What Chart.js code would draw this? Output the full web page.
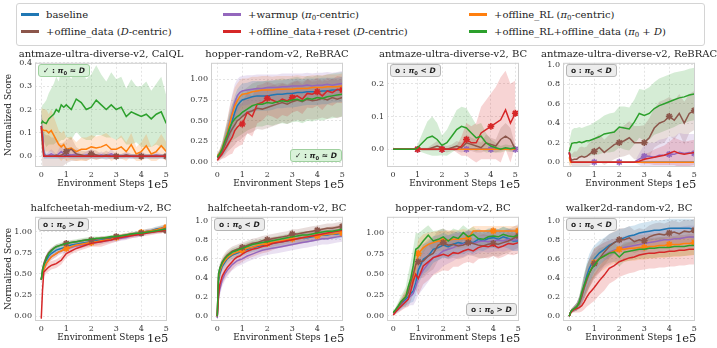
<!DOCTYPE html>
<html>
<head>
<meta charset="utf-8">
<script src="https://cdn.jsdelivr.net/npm/chart.js@4.4.1/dist/chart.umd.min.js"></script>
<style>
  body { margin: 0; background: #fff; width: 717px; height: 348px; overflow: hidden; position: relative; font-family: "DejaVu Serif", serif; color: #222; }
  canvas { position: absolute; }
  #legend { position: absolute; left: 16px; top: 3px; width: 689px; height: 43px; border: 1px solid #d4d4d4; border-radius: 3px; box-sizing: border-box; }
  .item { position: absolute; height: 14px; line-height: 14px; font-size: 10px; white-space: nowrap; }
  .sw { display: inline-block; width: 18px; height: 3px; vertical-align: middle; margin-right: 7px; margin-top: -2px; }
  .ttl { position: absolute; width: 220px; text-align: center; font-size: 10px; line-height: 12px; white-space: nowrap; }
  .exp { position: absolute; font-size: 11.5px; line-height: 13px; }
  .badge { position: absolute; font-family: "DejaVu Sans", sans-serif; font-weight: bold; font-size: 7.5px; line-height: 9px; padding: 1px 4px; border-radius: 3px; white-space: nowrap; }
  .badge.ok { background: #d9f2d9; border: 1px solid #9fd09f; }
  .badge.no { background: #ececec; border: 1px solid #b5b5b5; }
  sub { font-size: 70%; vertical-align: -2px; line-height: 0; }
</style>
</head>
<body>
<div id="legend">
  <div class="item" style="left:4px;top:4px"><span class="sw" style="background:#1f77b4"></span>baseline</div>
  <div class="item" style="left:206px;top:4px"><span class="sw" style="background:#9467bd"></span>+warmup (<i>π</i><sub>0</sub>-centric)</div>
  <div class="item" style="left:452px;top:4px"><span class="sw" style="background:#ff7f0e"></span>+offline_RL (<i>π</i><sub>0</sub>-centric)</div>
  <div class="item" style="left:4px;top:21px"><span class="sw" style="background:#8c564b"></span>+offline_data (<i>D</i>-centric)</div>
  <div class="item" style="left:206px;top:21px"><span class="sw" style="background:#d62728"></span>+offline_data+reset (<i>D</i>-centric)</div>
  <div class="item" style="left:452px;top:21px"><span class="sw" style="background:#2ca02c"></span>+offline_RL+offline_data (<i>π</i><sub>0</sub> + <i>D</i>)</div>
</div>
<script>
// environment steps (x 1e5)
const steps = [0, 0.05, 0.1, 0.2, 0.3, 0.4, 0.5, 0.6, 0.7, 0.8, 0.9, 1.0,
  1.2, 1.4, 1.6, 1.8, 2.0, 2.2, 2.4, 2.6, 2.8, 3.0,
  3.2, 3.4, 3.6, 3.8, 4.0, 4.2, 4.4, 4.6, 4.8, 5.0];
const xTicks = [0, 1, 2, 3, 4, 5];
const markAt = [11, 16, 21, 26, 31];

// order: baseline, warmup, offline_RL, offline_data, offline_data+reset, offline_RL+offline_data
const colors = ['#1f77b4', '#9467bd', '#ff7f0e', '#8c564b', '#d62728', '#2ca02c'];

const titles = ['antmaze-ultra-diverse-v2, CalQL', 'hopper-random-v2, ReBRAC', 'antmaze-ultra-diverse-v2, BC', 'antmaze-ultra-diverse-v2, ReBRAC',
  'halfcheetah-medium-v2, BC', 'halfcheetah-random-v2, BC', 'hopper-random-v2, BC', 'walker2d-random-v2, BC'];

// ---- panel 1: antmaze-ultra-diverse-v2, CalQL
const p1Base = [0.13,0.1,0.01,0,0,0,0,0,0,0,0,0.005, 0,0,0,0,0,0,0,0,0,0, 0,0,0,0,0,0,0,0,0,0];
const p1Warm = [0.13,0.09,0.01,0,0.005,0.01,0.005,0,0.01,0.02,0.01,0.01, 0.005,0.01,0,0.005,0.01,0,0.005,0,0.01,0, 0,0.005,0,0,0.005,0,0,0.005,0,0];
const p1RL = [0.12,0.115,0.11,0.11,0.1,0.11,0.09,0.07,0.05,0.04,0.05,0.03, 0.035,0.02,0.03,0.03,0.04,0.035,0.04,0.05,0.03,0.03, 0.04,0.02,0.05,0.01,0.02,0.045,0.01,0.02,0.045,0.02];
const p1Data = [0.12,0.05,0,0,0,0,0,0.005,0,0.005,0.01,0.02, 0.03,0.01,0.005,0,0.01,0.005,0,0.005,0,0, 0,0.005,0,0,0,0,0,0,0,0];
const p1Reset = [0.13,0.08,0,0,0,0,0,0,0,0,0,0, 0,0,0,0,0,0,0,0,0,0, 0,0,0,0,0,0,0,0,0,0];
const p1Both = [0.14,0.15,0.145,0.14,0.16,0.17,0.18,0.2,0.19,0.22,0.21,0.22, 0.2,0.245,0.23,0.2,0.21,0.24,0.22,0.2,0.22,0.2, 0.21,0.17,0.19,0.18,0.17,0.18,0.16,0.18,0.19,0.14];
const p1BaseSd = [0.06,0.05,0.02,0.01,0.01,0.01,0.01,0.01,0.01,0.01,0.01,0.01, 0.01,0.01,0.01,0.01,0.01,0.01,0.01,0.01,0.01,0.01, 0.01,0.01,0.01,0.01,0.01,0.01,0.01,0.01,0.01,0.01];
const p1WarmSd = [0.06,0.05,0.02,0.01,0.015,0.02,0.015,0.01,0.02,0.03,0.02,0.02, 0.015,0.02,0.01,0.015,0.02,0.01,0.015,0.01,0.02,0.01, 0.01,0.015,0.01,0.01,0.015,0.01,0.01,0.015,0.01,0.01];
const p1RLSd = [0.08,0.09,0.09,0.09,0.08,0.09,0.08,0.07,0.06,0.06,0.06,0.05, 0.05,0.04,0.05,0.05,0.05,0.05,0.05,0.05,0.05,0.04, 0.05,0.04,0.05,0.03,0.04,0.05,0.03,0.04,0.05,0.04];
const p1DataSd = [0.08,0.1,0.1,0.09,0.09,0.08,0.08,0.07,0.06,0.05,0.05,0.05, 0.05,0.03,0.02,0.02,0.02,0.02,0.01,0.02,0.01,0.01, 0.01,0.01,0.01,0.01,0.01,0.01,0.01,0.01,0.01,0.01];
const p1BothSd = [0.06,0.07,0.08,0.1,0.11,0.12,0.13,0.14,0.13,0.15,0.14,0.14, 0.13,0.14,0.15,0.13,0.14,0.15,0.13,0.12,0.14,0.13, 0.13,0.12,0.14,0.12,0.13,0.14,0.12,0.13,0.15,0.12];
const p1YTicks = [0, 0.1, 0.2, 0.3, 0.4];

// ---- panel 2: hopper-random-v2, ReBRAC
const p2Base = [0.07,0.08,0.1,0.15,0.22,0.3,0.4,0.5,0.6,0.68,0.72,0.75, 0.77,0.79,0.8,0.8,0.8,0.81,0.82,0.82,0.83,0.83, 0.84,0.84,0.85,0.85,0.85,0.86,0.86,0.87,0.87,0.88];
const p2Warm = [0.07,0.08,0.1,0.15,0.25,0.35,0.48,0.6,0.72,0.8,0.84,0.86, 0.87,0.88,0.89,0.89,0.9,0.9,0.9,0.91,0.91,0.92, 0.92,0.92,0.93,0.92,0.93,0.93,0.94,0.93,0.94,0.95];
const p2RL = [0.08,0.09,0.11,0.17,0.26,0.35,0.47,0.58,0.68,0.74,0.79,0.82, 0.83,0.85,0.86,0.87,0.87,0.87,0.88,0.88,0.88,0.88, 0.89,0.89,0.89,0.9,0.9,0.9,0.91,0.91,0.91,0.92];
const p2Data = [0.05,0.06,0.08,0.13,0.2,0.28,0.35,0.4,0.45,0.5,0.52,0.55, 0.6,0.62,0.65,0.64,0.66,0.68,0.7,0.72,0.7,0.73, 0.75,0.73,0.76,0.74,0.75,0.77,0.75,0.78,0.76,0.78];
const p2Reset = [0.02,0.04,0.06,0.1,0.15,0.2,0.25,0.3,0.38,0.42,0.45,0.46, 0.6,0.55,0.7,0.72,0.77,0.75,0.72,0.76,0.74,0.78, 0.8,0.76,0.83,0.82,0.85,0.8,0.86,0.84,0.88,0.87];
const p2Both = [0.06,0.08,0.1,0.16,0.25,0.33,0.42,0.48,0.52,0.55,0.57,0.6, 0.64,0.68,0.7,0.7,0.72,0.71,0.73,0.74,0.73,0.75, 0.76,0.74,0.77,0.76,0.78,0.77,0.79,0.8,0.81,0.82];
const p2BaseSd = [0.03,0.04,0.05,0.08,0.12,0.15,0.18,0.2,0.2,0.2,0.2,0.2, 0.19,0.19,0.18,0.18,0.18,0.18,0.17,0.17,0.17,0.17, 0.17,0.16,0.16,0.16,0.16,0.16,0.16,0.15,0.15,0.15];
const p2WarmSd = [0.03,0.04,0.05,0.08,0.12,0.16,0.2,0.22,0.22,0.2,0.19,0.18, 0.18,0.17,0.17,0.17,0.16,0.16,0.16,0.16,0.16,0.15, 0.15,0.15,0.15,0.15,0.15,0.15,0.15,0.15,0.15,0.15];
const p2RLSd = [0.03,0.04,0.05,0.08,0.12,0.16,0.2,0.22,0.22,0.21,0.2,0.19, 0.18,0.18,0.17,0.17,0.17,0.16,0.16,0.16,0.16,0.16, 0.16,0.15,0.15,0.15,0.15,0.15,0.15,0.15,0.15,0.15];
const p2DataSd = [0.03,0.04,0.05,0.08,0.12,0.16,0.2,0.22,0.24,0.25,0.26,0.26, 0.26,0.26,0.25,0.25,0.25,0.25,0.25,0.24,0.24,0.24, 0.24,0.24,0.24,0.23,0.23,0.23,0.23,0.23,0.23,0.23];
const p2ResetSd = [0.02,0.03,0.04,0.06,0.1,0.13,0.16,0.2,0.22,0.24,0.25,0.25, 0.25,0.24,0.23,0.22,0.2,0.2,0.2,0.19,0.19,0.18, 0.18,0.18,0.17,0.17,0.17,0.17,0.16,0.16,0.16,0.16];
const p2BothSd = [0.03,0.04,0.05,0.08,0.12,0.16,0.2,0.22,0.24,0.25,0.25,0.26, 0.26,0.27,0.27,0.27,0.27,0.27,0.27,0.27,0.27,0.27, 0.27,0.27,0.27,0.27,0.27,0.27,0.27,0.27,0.27,0.27];
const p2YTicks = [0, 0.25, 0.5, 0.75, 1.0];

// ---- panel 3: antmaze-ultra-diverse-v2, BC
const p3Base = [0,0,0,0,0,0,0,0,0,0,0,0, 0,0,0,0,0,0,0,0,0,0, 0,0,0,0,0,0,0,0,0,0];
const p3Warm = [0,0,0,0,0,0,0,0,0,0,0,0, 0,0,0,0,0,0,0,0,0,0, 0,0,0,0,0,0,0,0,0,0];
const p3RL = [0,0,0,0,0,0,0,0,0,0,0,0, 0,0,0,0,0,0,0,0,0,0, 0,0,0,0,0,0,0,0,0,0];
const p3Data = [0,0,0,0,0,0,0,0,0,0,0,0, 0,0,0.005,0.01,0.005,0,0.005,0.01,0.005,0.02, 0.015,0.01,0.005,0.02,0.015,0.01,0.03,0.04,0.03,0];
const p3Reset = [0,0,0,0,0,0,0,0,0,0,0,0, 0,0,0,0,0,0,0,0,0.01,0.03, 0.02,0.02,0.05,0.06,0.07,0.08,0.09,0.12,0.08,0.11];
const p3Both = [0,0,0,0,0,0,0,0,0,0,0,0.005, 0.02,0.035,0.04,0.03,0.012,0.02,0.04,0.06,0.07,0.065, 0.05,0.035,0.04,0.02,0.01,0.005,0,0.005,0.002,0.005];
const p3DataSd = [0,0,0,0,0,0,0,0,0,0,0,0, 0.005,0.005,0.01,0.015,0.01,0.01,0.01,0.015,0.015,0.025, 0.02,0.02,0.015,0.025,0.02,0.02,0.035,0.04,0.035,0.01];
const p3ResetSd = [0,0,0,0,0,0,0,0,0,0,0,0, 0,0,0,0,0,0,0,0.01,0.03,0.05, 0.05,0.06,0.08,0.09,0.1,0.11,0.13,0.12,0.12,0.1];
const p3BothSd = [0,0,0,0,0,0,0,0,0,0,0,0.01, 0.03,0.05,0.06,0.05,0.03,0.04,0.05,0.06,0.06,0.06, 0.05,0.04,0.04,0.03,0.02,0.015,0.01,0.01,0.01,0.01];
const p3YTicks = [0, 0.1, 0.2];

// ---- panel 4: antmaze-ultra-diverse-v2, ReBRAC
const p4Base = [0.1,0.02,0,0,0,0,0,0,0,0,0,0, 0,0,0,0,0,0,0,0,0,0, 0,0,0,0,0,0,0,0,0,0];
const p4Warm = [0.1,0.03,0,0,0,0,0,0,0,0,0,0, 0,0,0,0,0,0,0,0,0.03,0.06, 0.06,0.05,0.07,0.07,0.08,0.08,0.1,0.09,0.1,0.09];
const p4RL = [0.05,0,0,0,0,0,0,0,0,0,0,0, 0,0,0,0,0,0,0,0,0,0, 0,0,0,0,0,0,0,0,0,0];
const p4Data = [0.1,0.04,0.02,0.03,0.03,0.05,0.06,0.05,0.06,0.08,0.1,0.11, 0.15,0.1,0.14,0.18,0.2,0.22,0.25,0.2,0.2,0.2, 0.25,0.35,0.4,0.42,0.47,0.43,0.5,0.4,0.5,0.53];
const p4Reset = [0.1,0.02,0,0,0,0,0,0,0,0,0,0, 0,0,0,0,0,0,0,0,0.01,0.03, 0.04,0.05,0.06,0.07,0.09,0.11,0.09,0.08,0.09,0.1];
const p4Both = [0.11,0.15,0.19,0.2,0.2,0.21,0.2,0.21,0.22,0.22,0.23,0.24, 0.26,0.29,0.3,0.31,0.36,0.35,0.34,0.41,0.5,0.48, 0.5,0.55,0.58,0.6,0.62,0.64,0.66,0.67,0.69,0.7];
const p4WarmSd = [0.05,0.02,0,0,0,0,0,0,0,0,0,0, 0,0,0,0,0,0,0,0,0.06,0.12, 0.14,0.15,0.16,0.17,0.18,0.18,0.2,0.2,0.19,0.2];
const p4RLSd = [0.15,0.05,0.01,0,0,0,0,0,0,0,0,0, 0,0,0,0,0,0,0,0,0,0, 0,0,0,0,0,0,0,0,0,0];
const p4DataSd = [0.05,0.05,0.06,0.08,0.08,0.1,0.1,0.1,0.1,0.12,0.12,0.13, 0.14,0.13,0.14,0.15,0.15,0.16,0.17,0.17,0.17,0.18, 0.2,0.2,0.22,0.22,0.2,0.2,0.2,0.22,0.2,0.2];
const p4ResetSd = [0.05,0.02,0,0,0,0,0,0,0,0,0,0, 0,0,0,0,0,0,0,0,0.02,0.05, 0.06,0.08,0.09,0.1,0.12,0.14,0.14,0.13,0.13,0.13];
const p4BothSd = [0.1,0.12,0.14,0.15,0.15,0.15,0.15,0.15,0.15,0.16,0.16,0.17, 0.18,0.19,0.2,0.2,0.21,0.22,0.22,0.23,0.25,0.26, 0.27,0.27,0.28,0.28,0.28,0.28,0.27,0.27,0.27,0.27];
const p4YTicks = [0, 0.2, 0.4, 0.6, 0.8, 1.0];

// ---- panel 5: halfcheetah-medium-v2, BC
const p5Base = [0.43,0.52,0.58,0.66,0.71,0.74,0.76,0.78,0.79,0.8,0.81,0.82, 0.84,0.85,0.86,0.87,0.88,0.89,0.9,0.91,0.92,0.93, 0.94,0.95,0.96,0.97,0.98,1.0,1.01,1.03,1.04,1.06];
const p5Warm = [0.43,0.5,0.55,0.62,0.67,0.7,0.72,0.74,0.76,0.77,0.78,0.79, 0.81,0.83,0.84,0.85,0.86,0.87,0.88,0.89,0.9,0.91, 0.92,0.93,0.95,0.96,0.97,0.99,1.0,1.01,1.03,1.04];
const p5RL = [0.43,0.5,0.55,0.62,0.66,0.7,0.72,0.74,0.76,0.77,0.79,0.8, 0.82,0.84,0.85,0.86,0.87,0.88,0.89,0.9,0.91,0.93, 0.94,0.95,0.96,0.97,0.99,1.0,1.01,1.02,1.04,1.05];
const p5Data = [0.43,0.55,0.62,0.7,0.75,0.78,0.8,0.82,0.83,0.84,0.85,0.86, 0.87,0.88,0.89,0.9,0.9,0.91,0.92,0.92,0.93,0.94, 0.95,0.96,0.97,0.97,0.98,0.99,0.99,1.0,1.0,1.01];
const p5Reset = [-0.03,0.3,0.52,0.55,0.58,0.6,0.61,0.62,0.64,0.66,0.7,0.74, 0.77,0.8,0.82,0.84,0.86,0.87,0.88,0.89,0.9,0.92, 0.93,0.94,0.95,0.96,0.97,0.98,0.99,1.0,1.01,1.02];
const p5Both = [0.43,0.54,0.6,0.68,0.74,0.77,0.8,0.82,0.83,0.84,0.85,0.86, 0.87,0.88,0.89,0.9,0.91,0.92,0.92,0.93,0.94,0.94, 0.95,0.96,0.97,0.98,0.98,0.99,1.0,1.01,1.02,1.03];
const p5BaseSd = [0.02,0.03,0.03,0.03,0.03,0.03,0.03,0.03,0.03,0.03,0.03,0.03, 0.03,0.03,0.03,0.03,0.03,0.03,0.02,0.02,0.02,0.02, 0.02,0.02,0.02,0.03,0.03,0.03,0.03,0.03,0.03,0.03];
const p5WarmSd = [0.02,0.03,0.04,0.04,0.04,0.04,0.04,0.04,0.04,0.04,0.04,0.04, 0.04,0.04,0.04,0.03,0.03,0.03,0.03,0.03,0.03,0.03, 0.03,0.03,0.03,0.03,0.03,0.03,0.03,0.03,0.03,0.03];
const p5RLSd = [0.02,0.03,0.04,0.04,0.04,0.04,0.04,0.04,0.03,0.03,0.03,0.03, 0.03,0.03,0.04,0.04,0.04,0.05,0.04,0.03,0.03,0.03, 0.03,0.03,0.03,0.03,0.03,0.03,0.03,0.03,0.03,0.03];
const p5DataSd = [0.02,0.03,0.03,0.03,0.03,0.03,0.03,0.03,0.02,0.02,0.02,0.02, 0.02,0.02,0.02,0.02,0.02,0.02,0.02,0.02,0.02,0.02, 0.02,0.02,0.02,0.02,0.02,0.02,0.02,0.02,0.02,0.02];
const p5ResetSd = [0.03,0.1,0.05,0.05,0.05,0.05,0.05,0.05,0.05,0.05,0.05,0.05, 0.04,0.04,0.04,0.04,0.04,0.05,0.06,0.05,0.04,0.04, 0.03,0.03,0.03,0.03,0.03,0.03,0.03,0.03,0.03,0.03];
const p5BothSd = [0.02,0.03,0.03,0.03,0.03,0.03,0.03,0.03,0.03,0.03,0.03,0.03, 0.03,0.03,0.03,0.03,0.03,0.02,0.02,0.02,0.02,0.02, 0.02,0.02,0.02,0.02,0.02,0.02,0.02,0.02,0.02,0.02];
const p5YTicks = [0, 0.25, 0.5, 0.75, 1.0];

// ---- panel 6: halfcheetah-random-v2, BC
const p6Base = [0,0.36,0.44,0.52,0.56,0.6,0.62,0.64,0.65,0.66,0.67,0.68, 0.7,0.72,0.73,0.74,0.75,0.76,0.77,0.78,0.79,0.8, 0.81,0.82,0.82,0.83,0.84,0.85,0.85,0.86,0.86,0.87];
const p6Warm = [-0.02,0.2,0.28,0.38,0.44,0.48,0.51,0.54,0.56,0.58,0.59,0.6, 0.63,0.65,0.67,0.69,0.7,0.71,0.72,0.73,0.74,0.75, 0.76,0.77,0.78,0.79,0.8,0.81,0.81,0.82,0.83,0.84];
const p6RL = [0,0.4,0.47,0.54,0.58,0.61,0.63,0.65,0.66,0.67,0.68,0.69, 0.71,0.72,0.74,0.75,0.76,0.77,0.78,0.79,0.8,0.81, 0.81,0.82,0.83,0.84,0.84,0.85,0.86,0.86,0.87,0.87];
const p6Data = [0,0.42,0.5,0.57,0.61,0.64,0.66,0.68,0.69,0.7,0.71,0.72, 0.74,0.76,0.77,0.79,0.8,0.81,0.82,0.83,0.84,0.86, 0.86,0.87,0.88,0.89,0.9,0.91,0.92,0.92,0.93,0.94];
const p6Reset = [0,0.22,0.33,0.42,0.47,0.51,0.54,0.57,0.6,0.62,0.63,0.65, 0.68,0.7,0.71,0.73,0.74,0.76,0.77,0.78,0.79,0.8, 0.81,0.82,0.83,0.84,0.85,0.86,0.87,0.88,0.89,0.9];
const p6Both = [0,0.44,0.5,0.56,0.6,0.63,0.65,0.67,0.68,0.69,0.7,0.71, 0.73,0.75,0.76,0.77,0.78,0.79,0.8,0.81,0.82,0.83, 0.84,0.85,0.85,0.86,0.87,0.88,0.89,0.89,0.9,0.91];
const p6BaseSd = [0.01,0.05,0.05,0.05,0.05,0.05,0.05,0.05,0.05,0.05,0.05,0.05, 0.05,0.05,0.05,0.05,0.05,0.05,0.05,0.05,0.05,0.05, 0.05,0.05,0.05,0.05,0.05,0.05,0.05,0.05,0.05,0.05];
const p6WarmSd = [0.01,0.07,0.07,0.07,0.07,0.07,0.06,0.06,0.06,0.06,0.06,0.06, 0.06,0.06,0.06,0.06,0.06,0.06,0.06,0.06,0.06,0.06, 0.06,0.06,0.06,0.06,0.06,0.06,0.06,0.06,0.06,0.06];
const p6RLSd = [0.01,0.05,0.05,0.05,0.05,0.05,0.05,0.04,0.04,0.04,0.04,0.04, 0.04,0.04,0.04,0.04,0.04,0.04,0.04,0.04,0.04,0.04, 0.04,0.04,0.04,0.04,0.04,0.04,0.04,0.04,0.04,0.04];
const p6DataSd = [0.01,0.05,0.05,0.05,0.05,0.05,0.05,0.05,0.05,0.05,0.05,0.05, 0.05,0.05,0.05,0.05,0.05,0.05,0.05,0.05,0.05,0.05, 0.05,0.05,0.05,0.05,0.05,0.05,0.05,0.05,0.05,0.05];
const p6ResetSd = [0.01,0.08,0.08,0.08,0.08,0.08,0.08,0.08,0.08,0.08,0.08,0.08, 0.08,0.08,0.07,0.07,0.07,0.07,0.06,0.06,0.06,0.06, 0.06,0.06,0.06,0.06,0.06,0.06,0.06,0.06,0.06,0.06];
const p6BothSd = [0.01,0.04,0.04,0.04,0.04,0.04,0.04,0.04,0.04,0.04,0.04,0.04, 0.04,0.04,0.04,0.04,0.04,0.04,0.04,0.04,0.04,0.04, 0.04,0.04,0.04,0.04,0.04,0.04,0.04,0.04,0.04,0.04];
const p6YTicks = [0, 0.2, 0.4, 0.6, 0.8, 1.0];

// ---- panel 7: hopper-random-v2, BC
const p7Base = [0.04,0.05,0.06,0.1,0.13,0.17,0.2,0.23,0.27,0.3,0.4,0.55, 0.68,0.72,0.8,0.82,0.85,0.83,0.86,0.88,0.87,0.9, 0.88,0.92,0.9,0.93,0.94,0.92,0.95,0.93,0.9,0.9];
const p7Warm = [0.03,0.04,0.06,0.09,0.12,0.15,0.18,0.21,0.24,0.27,0.35,0.45, 0.55,0.63,0.7,0.73,0.78,0.8,0.82,0.85,0.86,0.88, 0.87,0.89,0.9,0.89,0.9,0.91,0.9,0.92,0.91,0.92];
const p7RL = [0.04,0.05,0.07,0.11,0.15,0.2,0.24,0.3,0.38,0.45,0.6,0.75, 0.82,0.86,0.88,0.9,0.9,0.91,0.92,0.92,0.93,0.93, 1.02,1.02,1.02,1.02,1.02,1.02,1.02,1.02,1.02,1.02];
const p7Data = [0.04,0.05,0.07,0.11,0.15,0.19,0.23,0.28,0.4,0.5,0.62,0.65, 0.66,0.72,0.75,0.85,0.88,0.85,0.86,0.84,0.85,0.88, 0.87,0.85,0.84,0.86,0.87,0.86,0.88,0.9,0.93,0.96];
const p7Reset = [0.01,0.03,0.05,0.08,0.11,0.14,0.17,0.2,0.3,0.42,0.5,0.45, 0.6,0.65,0.7,0.72,0.74,0.72,0.76,0.75,0.78,0.8, 0.78,0.82,0.84,0.83,0.85,0.82,0.84,0.87,0.86,0.88];
const p7Both = [0.04,0.06,0.08,0.12,0.17,0.2,0.23,0.35,0.45,0.6,0.8,0.82, 0.9,0.97,0.9,0.92,0.95,0.9,0.95,0.93,1.0,0.95, 0.98,0.93,0.92,0.95,0.96,0.95,0.98,0.96,0.95,0.97];
const p7BaseSd = [0.02,0.02,0.03,0.04,0.05,0.06,0.07,0.09,0.11,0.13,0.15,0.17, 0.18,0.17,0.16,0.15,0.15,0.14,0.14,0.14,0.13,0.13, 0.13,0.13,0.12,0.12,0.12,0.12,0.12,0.12,0.12,0.12];
const p7WarmSd = [0.02,0.02,0.03,0.04,0.05,0.06,0.07,0.09,0.11,0.14,0.17,0.2, 0.22,0.22,0.2,0.19,0.18,0.17,0.16,0.15,0.15,0.14, 0.14,0.14,0.13,0.13,0.13,0.13,0.13,0.13,0.13,0.13];
const p7RLSd = [0.02,0.02,0.03,0.04,0.05,0.06,0.07,0.09,0.11,0.14,0.16,0.17, 0.16,0.14,0.13,0.12,0.12,0.12,0.11,0.11,0.11,0.1, 0.06,0.06,0.06,0.06,0.06,0.06,0.06,0.06,0.06,0.06];
const p7DataSd = [0.02,0.02,0.03,0.04,0.05,0.06,0.07,0.09,0.12,0.15,0.18,0.2, 0.2,0.2,0.19,0.18,0.17,0.17,0.16,0.16,0.15,0.15, 0.15,0.15,0.15,0.15,0.15,0.15,0.14,0.14,0.14,0.14];
const p7ResetSd = [0.02,0.02,0.03,0.04,0.05,0.06,0.07,0.09,0.12,0.15,0.18,0.2, 0.22,0.22,0.21,0.2,0.19,0.18,0.17,0.16,0.15,0.15, 0.15,0.14,0.14,0.14,0.13,0.13,0.13,0.13,0.13,0.13];
const p7BothSd = [0.02,0.02,0.03,0.05,0.07,0.09,0.12,0.16,0.2,0.22,0.2,0.17, 0.14,0.12,0.12,0.11,0.1,0.1,0.1,0.1,0.09,0.09, 0.09,0.09,0.09,0.09,0.09,0.09,0.09,0.09,0.09,0.09];
const p7YTicks = [0, 0.25, 0.5, 0.75, 1.0];

// ---- panel 8: walker2d-random-v2, BC
const p8Base = [0,0.04,0.06,0.08,0.1,0.15,0.22,0.32,0.42,0.5,0.55,0.6, 0.66,0.7,0.74,0.77,0.8,0.82,0.84,0.85,0.87,0.88, 0.89,0.9,0.9,0.91,0.92,0.92,0.92,0.92,0.92,0.91];
const p8Warm = [0,0.04,0.06,0.08,0.1,0.15,0.22,0.3,0.38,0.45,0.5,0.55, 0.6,0.64,0.67,0.69,0.7,0.72,0.73,0.74,0.75,0.76, 0.77,0.78,0.79,0.8,0.8,0.81,0.81,0.82,0.83,0.83];
const p8RL = [0,0.04,0.06,0.08,0.1,0.15,0.22,0.3,0.38,0.45,0.5,0.56, 0.6,0.63,0.66,0.68,0.7,0.7,0.71,0.71,0.72,0.72, 0.73,0.73,0.74,0.74,0.75,0.75,0.75,0.76,0.76,0.77];
const p8Data = [0,0.04,0.06,0.08,0.1,0.13,0.2,0.3,0.38,0.45,0.5,0.55, 0.6,0.67,0.73,0.77,0.8,0.8,0.82,0.78,0.8,0.79, 0.83,0.85,0.86,0.85,0.87,0.88,0.86,0.89,0.88,0.9];
const p8Reset = [0,0.03,0.05,0.07,0.08,0.09,0.11,0.15,0.2,0.24,0.27,0.3, 0.37,0.43,0.5,0.53,0.57,0.59,0.61,0.62,0.64,0.65, 0.66,0.66,0.67,0.67,0.68,0.68,0.69,0.69,0.7,0.7];
const p8Both = [0,0.04,0.06,0.08,0.1,0.15,0.25,0.33,0.4,0.45,0.5,0.53, 0.6,0.63,0.66,0.67,0.62,0.67,0.68,0.69,0.7,0.7, 0.71,0.71,0.72,0.72,0.72,0.73,0.73,0.73,0.74,0.74];
const p8BaseSd = [0.01,0.02,0.02,0.03,0.04,0.06,0.09,0.12,0.14,0.15,0.15,0.14, 0.13,0.12,0.12,0.11,0.11,0.1,0.1,0.1,0.1,0.1, 0.1,0.1,0.1,0.1,0.1,0.1,0.1,0.1,0.1,0.1];
const p8WarmSd = [0.01,0.02,0.02,0.03,0.04,0.06,0.09,0.12,0.14,0.15,0.15,0.14, 0.14,0.13,0.13,0.12,0.12,0.12,0.12,0.12,0.12,0.12, 0.12,0.12,0.12,0.12,0.12,0.12,0.12,0.12,0.12,0.12];
const p8RLSd = [0.01,0.02,0.02,0.03,0.04,0.06,0.09,0.12,0.14,0.15,0.15,0.15, 0.14,0.14,0.13,0.13,0.13,0.13,0.13,0.13,0.13,0.13, 0.13,0.13,0.13,0.13,0.13,0.13,0.13,0.13,0.13,0.13];
const p8DataSd = [0.01,0.02,0.02,0.03,0.04,0.06,0.09,0.12,0.14,0.15,0.16,0.16, 0.15,0.14,0.13,0.12,0.12,0.12,0.12,0.12,0.12,0.12, 0.12,0.12,0.12,0.12,0.12,0.12,0.12,0.12,0.12,0.12];
const p8ResetSd = [0.01,0.02,0.02,0.03,0.04,0.05,0.06,0.08,0.1,0.12,0.13,0.14, 0.15,0.16,0.16,0.16,0.16,0.16,0.16,0.16,0.16,0.16, 0.16,0.16,0.16,0.16,0.16,0.16,0.16,0.16,0.16,0.16];
const p8BothSd = [0.01,0.02,0.02,0.03,0.04,0.06,0.09,0.12,0.14,0.14,0.13,0.12, 0.11,0.1,0.1,0.1,0.1,0.1,0.1,0.1,0.1,0.1, 0.1,0.1,0.1,0.1,0.1,0.1,0.1,0.1,0.1,0.1];
const p8YTicks = [0, 0.2, 0.4, 0.6, 0.8, 1.0];

const PLOT_LEFT = [35, 211, 387, 563];
const PLOT_TOP = [61, 215];
const PLOT_W = 132, PLOT_H = 106;

const panels = [
  { means: [p1Base, p1Warm, p1RL, p1Data, p1Reset, p1Both], sds: [p1BaseSd, p1WarmSd, p1RLSd, p1DataSd, null, p1BothSd],
    yMin: -0.046, yMax: 0.4, yTicks: p1YTicks, dig: 1, xMax: 5.03, marks: [3], badge: ['ok', '≈', 'tl'] },
  { means: [p2Base, p2Warm, p2RL, p2Data, p2Reset, p2Both], sds: [p2BaseSd, p2WarmSd, p2RLSd, p2DataSd, p2ResetSd, p2BothSd],
    yMin: -0.06, yMax: 1.2, yTicks: p2YTicks, dig: 2, xMax: 5.03, marks: [4], badge: ['ok', '≈', 'br'] },
  { means: [p3Base, p3Warm, p3RL, p3Data, p3Reset, p3Both], sds: [null, null, null, p3DataSd, p3ResetSd, p3BothSd],
    yMin: -0.054, yMax: 0.264, yTicks: p3YTicks, dig: 1, xMax: 5.15, marks: [4, 1], badge: ['no', '<', 'tl'] },
  { means: [p4Base, p4Warm, p4RL, p4Data, p4Reset, p4Both], sds: [null, p4WarmSd, p4RLSd, p4DataSd, p4ResetSd, p4BothSd],
    yMin: -0.05, yMax: 1.02, yTicks: p4YTicks, dig: 1, xMax: 5.03, marks: [3, 1], badge: ['no', '<', 'tl'] },
  { means: [p5Base, p5Warm, p5RL, p5Data, p5Reset, p5Both], sds: [p5BaseSd, p5WarmSd, p5RLSd, p5DataSd, p5ResetSd, p5BothSd],
    yMin: -0.058, yMax: 1.174, yTicks: p5YTicks, dig: 2, xMax: 5.03, marks: [3, 2], badge: ['no', '>', 'tl'] },
  { means: [p6Base, p6Warm, p6RL, p6Data, p6Reset, p6Both], sds: [p6BaseSd, p6WarmSd, p6RLSd, p6DataSd, p6ResetSd, p6BothSd],
    yMin: -0.05, yMax: 1.04, yTicks: p6YTicks, dig: 1, xMax: 5.03, marks: [3, 2], badge: ['no', '<', 'tl'] },
  { means: [p7Base, p7Warm, p7RL, p7Data, p7Reset, p7Both], sds: [p7BaseSd, p7WarmSd, p7RLSd, p7DataSd, p7ResetSd, p7BothSd],
    yMin: -0.06, yMax: 1.19, yTicks: p7YTicks, dig: 2, xMax: 5.03, marks: [3, 2], badge: ['no', '>', 'br'] },
  { means: [p8Base, p8Warm, p8RL, p8Data, p8Reset, p8Both], sds: [p8BaseSd, p8WarmSd, p8RLSd, p8DataSd, p8ResetSd, p8BothSd],
    yMin: -0.05, yMax: 1.04, yTicks: p8YTicks, dig: 1, xMax: 5.03, marks: [3, 2], badge: ['no', '<', 'tl'] }
];

function alpha(hex, a) {
  const n = parseInt(hex.slice(1), 16);
  return `rgba(${n >> 16},${(n >> 8) & 255},${n & 255},${a})`;
}

// light frame around the axes, like the seaborn style
const framePlugin = {
  id: 'frame',
  afterDraw(chart) {
    const { ctx, chartArea: a } = chart;
    ctx.save();
    ctx.strokeStyle = '#cfcfcf';
    ctx.lineWidth = 1;
    ctx.strokeRect(a.left + 0.5, a.top + 0.5, a.width - 1, a.height - 1);
    ctx.restore();
  }
};

function buildDatasets(p) {
  const ds = [];
  p.means.forEach((m, k) => {
    const sd = p.sds[k];
    if (!sd) return;
    ds.push({ data: steps.map((x, i) => ({ x, y: m[i] - sd[i] })), borderWidth: 0, pointRadius: 0, fill: false, order: 50 });
    ds.push({ data: steps.map((x, i) => ({ x, y: m[i] + sd[i] })), borderWidth: 0, pointRadius: 0, fill: '-1',
      backgroundColor: alpha(colors[k], 0.2), order: 50 });
  });
  p.means.forEach((m, k) => {
    const marked = p.marks.includes(k);
    ds.push({
      data: steps.map((x, i) => ({ x, y: m[i] })),
      borderColor: colors[k], backgroundColor: colors[k], borderWidth: 1.5, fill: false,
      pointStyle: 'star', pointBorderWidth: 1.6,
      pointRadius: ctx => (marked && markAt.includes(ctx.dataIndex)) ? 3.4 : 0,
      order: 10 - k
    });
  });
  return ds;
}

const tickFont = { family: 'DejaVu Serif', size: 8 };

panels.forEach((p, idx) => {
  const col = idx % 4, row = Math.floor(idx / 4);
  const plotLeft = PLOT_LEFT[col], plotTop = PLOT_TOP[row];
  const yW = col === 0 ? 35 : 30;
  const cv = document.createElement('canvas');
  cv.width = yW + PLOT_W + 8;
  cv.height = 6 + PLOT_H + 25;
  cv.style.left = (plotLeft - yW) + 'px';
  cv.style.top = (plotTop - 6) + 'px';
  document.body.appendChild(cv);

  new Chart(cv.getContext('2d'), {
    type: 'line',
    data: { datasets: buildDatasets(p) },
    options: {
      responsive: false,
      animation: false,
      events: [],
      layout: { padding: { top: 6, right: 8, left: 0, bottom: 0 } },
      elements: { line: { tension: 0 } },
      plugins: { legend: { display: false }, tooltip: { enabled: false } },
      scales: {
        x: {
          type: 'linear', min: -0.25, max: p.xMax,
          afterBuildTicks: s => { s.ticks = xTicks.map(v => ({ value: v })); },
          afterFit: s => { s.height = 25; },
          grid: { color: '#dedede', lineWidth: 0.8, drawTicks: false },
          border: { display: false, dash: [2, 2] },
          ticks: { font: tickFont, color: '#333', padding: 3, maxRotation: 0, callback: v => String(v) },
          title: { display: true, text: 'Environment Steps', font: { family: 'DejaVu Serif', size: 9 }, color: '#222', padding: { top: 0, bottom: 3 } }
        },
        y: {
          type: 'linear', min: p.yMin, max: p.yMax,
          afterBuildTicks: s => { s.ticks = p.yTicks.map(v => ({ value: v })); },
          afterFit: s => { s.width = yW; },
          grid: { color: '#dedede', lineWidth: 0.8, drawTicks: false },
          border: { display: false, dash: [2, 2] },
          ticks: { font: tickFont, color: '#333', padding: 3, callback: v => v.toFixed(p.dig) },
          title: { display: col === 0, text: 'Normalized Score', font: { family: 'DejaVu Serif', size: 9 }, color: '#222', padding: { top: 3, bottom: 0 } }
        }
      }
    },
    plugins: [framePlugin]
  });

  // title above the axes
  const t = document.createElement('div');
  t.className = 'ttl';
  t.textContent = titles[idx];
  t.style.left = (plotLeft + PLOT_W / 2 - 110) + 'px';
  t.style.top = (plotTop - 13) + 'px';
  document.body.appendChild(t);

  // offset text for the x axis
  const e = document.createElement('div');
  e.className = 'exp';
  e.textContent = '1e5';
  e.style.left = (plotLeft + PLOT_W - 20) + 'px';
  e.style.top = (plotTop + PLOT_H + 11) + 'px';
  document.body.appendChild(e);

  // regime badge
  const [kind, rel, corner] = p.badge;
  const b = document.createElement('div');
  b.className = 'badge ' + kind;
  b.innerHTML = (kind === 'ok' ? '✓' : 'o') + ' : <i>π</i><sub>0</sub> ' + rel + ' <i>D</i>';
  if (corner === 'tl') {
    b.style.left = (plotLeft + 3) + 'px';
    b.style.top = (plotTop + 3) + 'px';
  } else {
    b.style.left = (plotLeft + PLOT_W - 53) + 'px';
    b.style.top = (plotTop + PLOT_H - 18) + 'px';
  }
  document.body.appendChild(b);
});
</script>
</body>
</html>
